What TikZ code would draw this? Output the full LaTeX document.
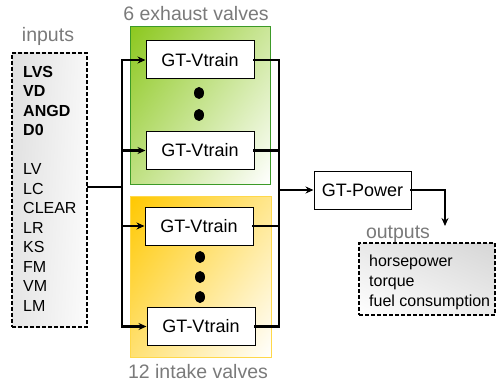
\documentclass[tikz,border=0pt]{standalone}
\usepackage{fontspec}
\setmainfont{Liberation Sans}
\usetikzlibrary{arrows.meta,shadings}
\definecolor{exgreen}{HTML}{8CC81E}
\definecolor{exframe}{HTML}{3C9A28}
\definecolor{inyellow}{HTML}{FFC800}
\definecolor{inframe}{HTML}{FFD84A}
\definecolor{labgray}{HTML}{7A7A7A}

\begin{document}
\begin{tikzpicture}[x=1pt,y=1pt,>={Stealth[length=8pt,width=7pt]},
  vt/.style={draw,fill=white,line width=1pt,minimum width=108pt,minimum height=38pt,inner sep=0pt,font=\fontsize{18}{20}\selectfont},
  io/.style={draw,line width=1.8pt,dash pattern=on 4pt off 2pt,inner sep=0pt},
  lab/.style={text=labgray,inner sep=0pt,font=\fontsize{19.5}{22}\selectfont},
  wire/.style={line width=2.6pt,line cap=rect}]
  \useasboundingbox (0,0) rectangle (498,-385);
  \node (exh) [draw=exframe,line width=1pt,minimum width=140pt,minimum height=157pt,
    upper left=exgreen,upper right=exgreen!45!white,lower left=exgreen!55!white,lower right=white] at (200,-105.5) {};
  \node (intk) [draw=inframe,line width=1pt,minimum width=141pt,minimum height=161pt,
    upper left=inyellow,upper right=inyellow!45!white,lower left=inyellow!55!white,lower right=white] at (200.5,-276.5) {};
  \node (in) [io,minimum width=75pt,minimum height=274pt,
    upper left=gray!25,lower left=gray!20,upper right=gray!6,lower right=gray!3] at (49.5,-190) {};
  \node (out) [io,minimum width=136pt,minimum height=72pt,
    upper left=gray!18,upper right=gray!32,lower left=white,lower right=gray!15] at (427,-279) {};
  \node (intxt) [anchor=north west,inner sep=0pt,align=left,font=\fontsize{16}{19.5}\selectfont] at (23,-66)
    {\textbf{LVS}\\\textbf{VD}\\\textbf{ANGD}\\\textbf{D0}\\[19.5pt]LV\\LC\\CLEAR\\LR\\KS\\FM\\VM\\LM};
  \node (outtxt) [anchor=north west,inner sep=0pt,align=left,font=\fontsize{16}{20}\selectfont] at (369,-254.5)
    {horsepower\\torque\\fuel consumption};
  \node (v1) [vt] at (200,-60) {GT-Vtrain};
  \node (v2) [vt] at (200,-150.5) {GT-Vtrain};
  \node (v3) [vt] at (199,-226) {GT-Vtrain};
  \node (v4) [vt] at (201,-326.5) {GT-Vtrain};
  \node (pw) [vt,minimum width=97pt] at (362.5,-190) {GT-Power};
  \node (inl) [lab] at (48,-36) {inputs};
  \node (exl) [lab] at (196,-14) {6 exhaust valves};
  \node (inkl) [lab] at (198,-372) {12 intake valves};
  \node (outl) [lab] at (398,-234) {outputs};
  \foreach \y in {93,115} \fill (199,-\y) circle[x radius=5pt,y radius=6pt];
  \foreach \y in {257,277,297} \fill (200,-\y) circle[x radius=5pt,y radius=6pt];
  \coordinate (bl) at (122,-187);
  \coordinate (br) at (279,-190);
  \coordinate (ot) at (445,-226);
  \draw[wire] (in.east |- bl) -- (bl);
  \draw[wire] (v1.west -| bl) -- (v4.west -| bl);
  \foreach \v in {v1,v2,v3,v4} \draw[wire,->] (\v.west -| bl) -- (\v.west);
  \foreach \v in {v1,v2,v3,v4} \draw[wire] (\v.east) -- (\v.east -| br);
  \draw[wire] (v1.east -| br) -- (v4.east -| br);
  \draw[wire,->] (br) -- (pw.west);
  \draw[wire,->] (pw.east) -| (ot);
\end{tikzpicture}
\end{document}
